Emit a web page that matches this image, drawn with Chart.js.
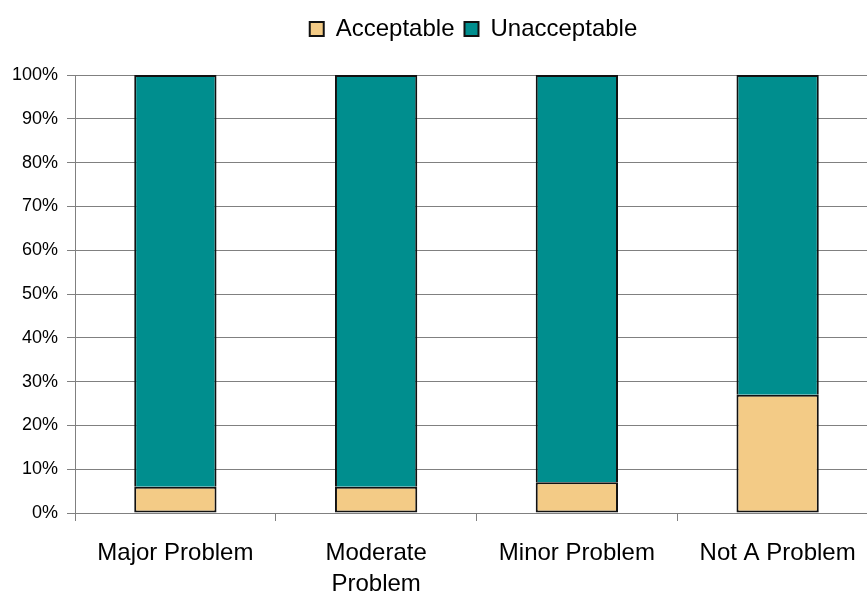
<!DOCTYPE html>
<html>
<head>
<meta charset="utf-8">
<script src="https://cdn.jsdelivr.net/npm/chart.js@4.4.1/dist/chart.umd.min.js"></script>
<style>
  html, body { margin: 0; padding: 0; background: #fff; overflow: hidden; }
  #wrap { width: 880px; height: 594px; }
</style>
</head>
<body>
<div id="wrap"><canvas id="c" width="880" height="594"></canvas></div>
<script>
// Problem-severity categories and the share of responses in each
const categories = ['Major Problem', ['Moderate', 'Problem'], 'Minor Problem', 'Not A Problem'];
const acceptable = [6, 6, 7, 27];
const unacceptable = [94, 94, 93, 73];
const yTicks = [0, 10, 20, 30, 40, 50, 60, 70, 80, 90, 100];

const FONT = 'Liberation Sans, Arial, sans-serif';
const GRID = '#808080';

// Centre the legend over the plot area and lift it to the top band
const legendOverPlot = {
  id: 'legendOverPlot',
  afterLayout(chart) {
    const lg = chart.legend;
    if (lg) {
      const h = lg.bottom - lg.top;
      lg.left = chart.chartArea.left - 3;
      lg.right = chart.chartArea.right - 3;
      lg.top = 7;
      lg.bottom = lg.top + h;
    }
  }
};

new Chart(document.getElementById('c'), {
  type: 'bar',
  data: {
    labels: categories,
    datasets: [
      {
        label: 'Acceptable',
        data: acceptable,
        backgroundColor: '#F3CB86',
        borderColor: '#111111',
        borderWidth: 2,
        borderSkipped: false
      },
      {
        label: 'Unacceptable',
        data: unacceptable,
        backgroundColor: '#008E8E',
        borderColor: '#111111',
        borderWidth: 2,
        borderSkipped: 'bottom'
      }
    ]
  },
  options: {
    responsive: false,
    animation: false,
    layout: { padding: { left: 0, right: 2, top: 5, bottom: 0 } },
    datasets: { bar: { barPercentage: 0.41, categoryPercentage: 1.0 } },
    plugins: {
      legend: {
        position: 'top',
        labels: {
          font: { family: FONT, size: 24 },
          color: '#000',
          boxWidth: 14,
          boxHeight: 14,
          padding: 10
        }
      },
      tooltip: { enabled: false }
    },
    scales: {
      x: {
        stacked: true,
        offset: true,
        grid: {
          display: true,
          offset: true,
          drawOnChartArea: false,
          drawTicks: true,
          tickLength: 8,
          color: GRID,
          lineWidth: 1
        },
        border: { display: true, color: GRID, width: 1 },
        ticks: {
          font: { family: FONT, size: 24, lineHeight: 1.3 },
          color: '#000',
          padding: 17,
          maxRotation: 0,
          autoSkip: false
        },
        afterFit(scale) { scale.height = 81; }
      },
      y: {
        stacked: true,
        min: 0,
        max: 100,
        afterBuildTicks(scale) { scale.ticks = yTicks.map(v => ({ value: v })); },
        grid: {
          color: GRID,
          lineWidth: 1,
          drawTicks: true,
          tickLength: 8
        },
        border: { display: true, color: GRID, width: 1 },
        ticks: {
          font: { family: FONT, size: 18 },
          color: '#000',
          padding: 9,
          callback: v => v + '%'
        },
        afterFit(scale) {
          scale.width = 75;
          scale.paddingTop = 75;
        }
      }
    }
  },
  plugins: [legendOverPlot]
});
</script>
</body>
</html>
